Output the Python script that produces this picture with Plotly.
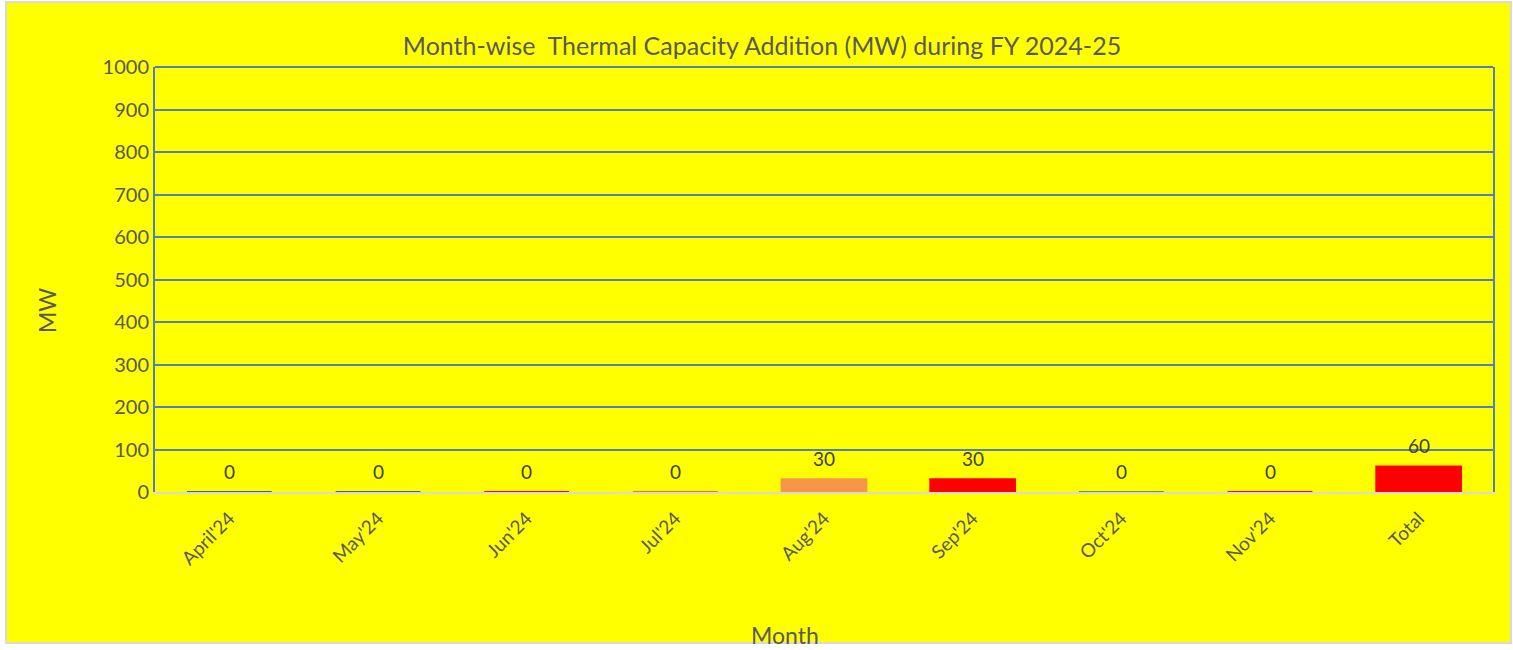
import plotly.graph_objects as go

months = ["April'24", "May'24", "Jun'24", "Jul'24", "Aug'24", "Sep'24", "Oct'24", "Nov'24", "Total"]
capacity_mw = [0, 0, 0, 0, 30, 30, 0, 0, 60]
bar_colors = ["#4F5B8C", "#4F5B8C", "#FF0000", "#F07A1E", "#F79646", "#FF0000", "#77933C", "#FF0000", "#FF0000"]
y_ticks = [0, 100, 200, 300, 400, 500, 600, 700, 800, 900, 1000]

W, H = 1513, 650
ML, MR, MT, MB = 155, 20, 67, 158
pw = W - ML - MR
ph = H - MT - MB
GRID = "#4F81BD"
TXT = "#595959"

fig = go.Figure()
fig.add_trace(go.Bar(
    x=months, y=capacity_mw,
    marker=dict(color=bar_colors, line=dict(color=bar_colors, width=2)),
    width=0.57, showlegend=False, hoverinfo="x+y",
))

for m, v in zip(months, capacity_mw):
    fig.add_annotation(x=m, y=v, text=str(v), showarrow=False, yshift=21,
                       font=dict(family="Lato", size=19, color="#404040"))

def px_x(p):
    return (p - ML) / pw

def px_y(p):
    return 1 - (p - MT) / ph

# outer chart box
fig.add_shape(type="rect", xref="paper", yref="paper",
              x0=px_x(6), x1=px_x(1511), y0=px_y(643), y1=px_y(2),
              fillcolor="#FFFF00", line=dict(color="#D9D9D9", width=2), layer="below")
# top border of plot area
fig.add_shape(type="line", xref="paper", yref="paper", x0=0, x1=1, y0=1, y1=1,
              line=dict(color=GRID, width=2), layer="above")

# axis titles
fig.add_annotation(xref="paper", yref="paper", x=px_x(47), y=px_y(311), text="MW",
                   textangle=-90, showarrow=False, xanchor="center", yanchor="middle",
                   font=dict(family="Lato", size=23, color=TXT))
fig.add_annotation(xref="paper", yref="paper", x=px_x(785), y=px_y(635), text="Month",
                   showarrow=False, xanchor="center", yanchor="middle",
                   font=dict(family="Lato", size=23, color=TXT))

fig.update_layout(
    width=W, height=H,
    margin=dict(l=ML, r=MR, t=MT, b=MB),
    paper_bgcolor="#FFFFFF", plot_bgcolor="#FFFF00",
    font=dict(family="Lato", color=TXT),
    title=dict(text="Month-wise  Thermal Capacity Addition (MW) during FY 2024-25",
               xref="container", x=762 / W, xanchor="center",
               yref="container", y=1 - 46 / H, yanchor="middle",
               font=dict(family="Lato", size=25, color=TXT)),
    xaxis=dict(tickangle=-45, tickfont=dict(size=19, color=TXT),
               showgrid=False, showline=True, linecolor="#D9D9D9", linewidth=2,
               mirror=False, ticks="", ticklabelstandoff=6),
    yaxis=dict(range=[0, 1000], tickvals=y_ticks, tickfont=dict(size=20, color=TXT),
               showgrid=True, gridcolor=GRID, gridwidth=2,
               showline=True, linecolor=GRID, linewidth=2, mirror=True,
               ticks="", zeroline=False),
)

fig.write_html("out.html", config={"displayModeBar": False},
               post_script="document.body.style.margin='0';")
